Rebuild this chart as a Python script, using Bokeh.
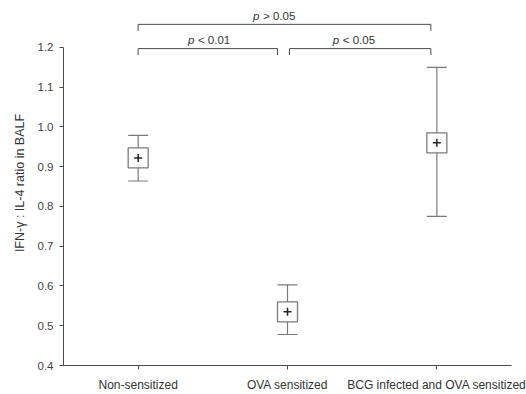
from bokeh.plotting import figure
from bokeh.models import ColumnDataSource, Whisker, TeeHead, FixedTicker, Range1d
from bokeh.core.properties import value
from bokeh.embed import file_html
from bokeh.resources import INLINE

groups = ["Non-sensitized", "OVA sensitized", "BCG infected and OVA sensitized"]
xpos = [0, 1, 2]
means = [0.922, 0.535, 0.96]
lower = [0.864, 0.478, 0.775]
upper = [0.979, 0.603, 1.15]

# significance brackets: start, end, height, label centre, label text
br_start = [0.0, 1.013, 0.0]
br_end = [0.933, 1.96, 1.96]
br_height = [1.197, 1.197, 1.258]
br_label_x = [0.487, 1.457, 0.923]
br_sign = ["<", "<", ">"]
br_value = ["0.01", "0.05", "0.05"]
br_tick = 0.016

FONT = "Liberation Sans"
GREY = "#7a7a7a"
AX = "#4a4a4a"

p = figure(width=526, height=394, output_backend="svg", toolbar_location=None,
           x_range=Range1d(-0.5, 2.5), y_range=Range1d(0.4, 1.318),
           min_border_left=63, min_border_right=15, min_border_top=0, min_border_bottom=28)
p.outline_line_color = None
p.grid.grid_line_color = None
p.background_fill_color = "white"

src = ColumnDataSource(dict(x=xpos, m=means, lo=lower, hi=upper))
wh = Whisker(base="x", lower="lo", upper="hi", source=src, line_color=GREY, line_width=1.2,
             upper_head=TeeHead(size=20, line_color=GREY, line_width=1.2),
             lower_head=TeeHead(size=20, line_color=GREY, line_width=1.2))
p.add_layout(wh)
p.scatter("x", "m", source=src, marker="square", size=20, fill_color="white",
          line_color=GREY, line_width=1.3)
p.scatter("x", "m", source=src, marker="cross", size=8, line_color="#222222", line_width=1.5)

# brackets
for s, e, h in zip(br_start, br_end, br_height):
    p.line([s, s, e, e], [h - br_tick, h, h, h - br_tick], line_color=AX, line_width=1)
lab_y = [h + 0.007 for h in br_height]
lsrc = ColumnDataSource(dict(x=br_label_x, y=lab_y,
                             r=[sg + " " + v for sg, v in zip(br_sign, br_value)]))
p.text("x", "y", text=value("p"), source=lsrc, text_font=value(FONT), text_font_size="11.5px",
       text_font_style="italic", text_align="left", text_baseline="bottom",
       text_color="#333333", x_offset=-23)
p.text("x", "y", text="r", source=lsrc, text_font=value(FONT), text_font_size="11.5px",
       text_align="left", text_baseline="bottom", text_color="#333333", x_offset=-13)

# axes
ya = p.yaxis[0]
ya.bounds = (0.4, 1.2)
ticks = [0.4, 0.5, 0.6, 0.7, 0.8, 0.9, 1.0, 1.1, 1.2]
ya.ticker = FixedTicker(ticks=ticks)
ya.major_label_overrides = {t: "%.1f" % t for t in ticks}
ya.minor_tick_line_color = None
ya.major_tick_in = 0
ya.major_tick_out = 4
ya.axis_line_color = AX
ya.major_tick_line_color = AX
ya.major_label_text_font = FONT
ya.major_label_text_font_size = "11.5px"
ya.major_label_text_color = "#444444"
ya.major_label_standoff = 6
ya.axis_label = "IFN-\u03b3 : IL-4 ratio in BALF"
ya.axis_label_text_font = FONT
ya.axis_label_text_font_size = "12.5px"
ya.axis_label_text_font_style = "normal"
ya.axis_label_text_color = "#333333"
ya.axis_label_standoff = 8

xa = p.xaxis[0]
xa.bounds = (-0.5, 2.5)
xa.ticker = FixedTicker(ticks=xpos)
xa.major_label_overrides = {i: g for i, g in zip(xpos, groups)}
xa.minor_tick_line_color = None
xa.major_tick_in = 0
xa.major_tick_out = 4
xa.axis_line_color = AX
xa.major_tick_line_color = AX
xa.major_label_text_font = FONT
xa.major_label_text_font_size = "12px"
xa.major_label_text_color = "#333333"
xa.major_label_standoff = 8

open("out.html", "w").write(file_html(p, INLINE))
